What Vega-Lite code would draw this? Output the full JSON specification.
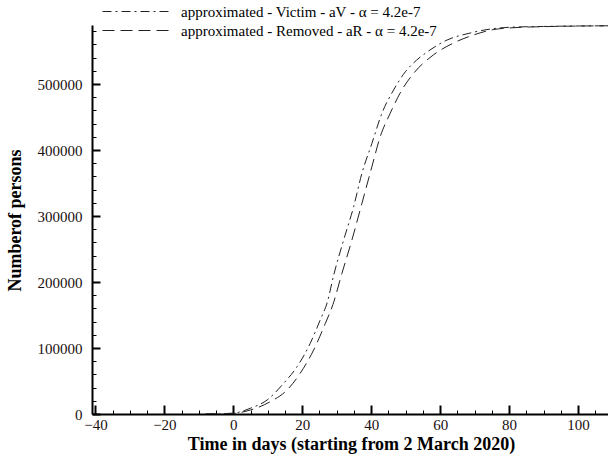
{
  "$schema": "https://vega.github.io/schema/vega-lite/v6.json",
  "autosize": {"type": "none"},
  "padding": {"left": 92, "top": 25, "right": 0, "bottom": 43},
  "width": 516,
  "height": 389,
  "background": "white",
  "config": {
    "view": {"stroke": null},
    "font": "Liberation Serif"
  },
  "datasets": {
    "curves": [
      {"day": -8, "persons": 0, "series": "approximated - Victim - aV - α = 4.2e-7"},
      {"day": -4, "persons": 400, "series": "approximated - Victim - aV - α = 4.2e-7"},
      {"day": 0, "persons": 1300, "series": "approximated - Victim - aV - α = 4.2e-7"},
      {"day": 4.9, "persons": 8600, "series": "approximated - Victim - aV - α = 4.2e-7"},
      {"day": 9.8, "persons": 21200, "series": "approximated - Victim - aV - α = 4.2e-7"},
      {"day": 14.6, "persons": 46500, "series": "approximated - Victim - aV - α = 4.2e-7"},
      {"day": 18.5, "persons": 71700, "series": "approximated - Victim - aV - α = 4.2e-7"},
      {"day": 22.3, "persons": 107000, "series": "approximated - Victim - aV - α = 4.2e-7"},
      {"day": 25.2, "persons": 142400, "series": "approximated - Victim - aV - α = 4.2e-7"},
      {"day": 27.3, "persons": 170000, "series": "approximated - Victim - aV - α = 4.2e-7"},
      {"day": 29.1, "persons": 210000, "series": "approximated - Victim - aV - α = 4.2e-7"},
      {"day": 32.0, "persons": 263600, "series": "approximated - Victim - aV - α = 4.2e-7"},
      {"day": 34.9, "persons": 314000, "series": "approximated - Victim - aV - α = 4.2e-7"},
      {"day": 37.3, "persons": 364700, "series": "approximated - Victim - aV - α = 4.2e-7"},
      {"day": 40.2, "persons": 410000, "series": "approximated - Victim - aV - α = 4.2e-7"},
      {"day": 43.1, "persons": 455600, "series": "approximated - Victim - aV - α = 4.2e-7"},
      {"day": 46.5, "persons": 491000, "series": "approximated - Victim - aV - α = 4.2e-7"},
      {"day": 49.9, "persons": 518600, "series": "approximated - Victim - aV - α = 4.2e-7"},
      {"day": 53.2, "persons": 536400, "series": "approximated - Victim - aV - α = 4.2e-7"},
      {"day": 56.2, "persons": 548500, "series": "approximated - Victim - aV - α = 4.2e-7"},
      {"day": 62.0, "persons": 566700, "series": "approximated - Victim - aV - α = 4.2e-7"},
      {"day": 68.7, "persons": 577300, "series": "approximated - Victim - aV - α = 4.2e-7"},
      {"day": 75.4, "persons": 584000, "series": "approximated - Victim - aV - α = 4.2e-7"},
      {"day": 80, "persons": 586000, "series": "approximated - Victim - aV - α = 4.2e-7"},
      {"day": 90, "persons": 587300, "series": "approximated - Victim - aV - α = 4.2e-7"},
      {"day": 100, "persons": 588000, "series": "approximated - Victim - aV - α = 4.2e-7"},
      {"day": 108.7, "persons": 588300, "series": "approximated - Victim - aV - α = 4.2e-7"},
      {"day": -8, "persons": 0, "series": "approximated - Removed - aR - α = 4.2e-7"},
      {"day": -4, "persons": 250, "series": "approximated - Removed - aR - α = 4.2e-7"},
      {"day": 0, "persons": 900, "series": "approximated - Removed - aR - α = 4.2e-7"},
      {"day": 4.9, "persons": 6000, "series": "approximated - Removed - aR - α = 4.2e-7"},
      {"day": 10.7, "persons": 18600, "series": "approximated - Removed - aR - α = 4.2e-7"},
      {"day": 15.6, "persons": 36400, "series": "approximated - Removed - aR - α = 4.2e-7"},
      {"day": 19.4, "persons": 61700, "series": "approximated - Removed - aR - α = 4.2e-7"},
      {"day": 23.3, "persons": 97000, "series": "approximated - Removed - aR - α = 4.2e-7"},
      {"day": 26.7, "persons": 137400, "series": "approximated - Removed - aR - α = 4.2e-7"},
      {"day": 28.9, "persons": 166000, "series": "approximated - Removed - aR - α = 4.2e-7"},
      {"day": 31.5, "persons": 213000, "series": "approximated - Removed - aR - α = 4.2e-7"},
      {"day": 34.4, "persons": 263600, "series": "approximated - Removed - aR - α = 4.2e-7"},
      {"day": 37.3, "persons": 319000, "series": "approximated - Removed - aR - α = 4.2e-7"},
      {"day": 40.2, "persons": 374700, "series": "approximated - Removed - aR - α = 4.2e-7"},
      {"day": 42.6, "persons": 420000, "series": "approximated - Removed - aR - α = 4.2e-7"},
      {"day": 45.5, "persons": 455600, "series": "approximated - Removed - aR - α = 4.2e-7"},
      {"day": 48.9, "persons": 491000, "series": "approximated - Removed - aR - α = 4.2e-7"},
      {"day": 52.3, "persons": 516200, "series": "approximated - Removed - aR - α = 4.2e-7"},
      {"day": 58.0, "persons": 544000, "series": "approximated - Removed - aR - α = 4.2e-7"},
      {"day": 63.8, "persons": 562000, "series": "approximated - Removed - aR - α = 4.2e-7"},
      {"day": 69.6, "persons": 574200, "series": "approximated - Removed - aR - α = 4.2e-7"},
      {"day": 75.4, "persons": 582500, "series": "approximated - Removed - aR - α = 4.2e-7"},
      {"day": 80, "persons": 585000, "series": "approximated - Removed - aR - α = 4.2e-7"},
      {"day": 90, "persons": 587000, "series": "approximated - Removed - aR - α = 4.2e-7"},
      {"day": 100, "persons": 587900, "series": "approximated - Removed - aR - α = 4.2e-7"},
      {"day": 108.7, "persons": 588300, "series": "approximated - Removed - aR - α = 4.2e-7"}
    ]
  },
  "data": {"name": "curves"},
  "layer": [
    {
      "mark": {"type": "line", "color": "#222222", "strokeWidth": 1, "interpolate": "monotone", "clip": true},
      "encoding": {
        "x": {
          "field": "day", "type": "quantitative",
          "scale": {"domain": [-41, 108.7], "nice": false, "zero": false},
          "axis": {
            "orient": "bottom",
            "values": [-40, -20, 0, 20, 40, 60, 80, 100],
            "title": "Time in days (starting from 2 March 2020)",
            "titleFont": "Liberation Serif", "titleFontSize": 18, "titleFontWeight": "bold", "titleColor": "black",
            "titleX": 259, "titleY": 30, "titleBaseline": "middle", "titleAlign": "center",
            "labelFont": "Liberation Serif", "labelFontSize": 15, "labelColor": "#1a1010",
            "ticks": false, "tickSize": 0, "labelPadding": 3, "labelFlush": false,
            "domainColor": "black", "domainWidth": 2,
            "grid": false
          }
        },
        "y": {
          "field": "persons", "type": "quantitative",
          "scale": {"domain": [0, 589500], "nice": false},
          "axis": {
            "orient": "left",
            "values": [0, 100000, 200000, 300000, 400000, 500000],
            "format": "d",
            "title": "Numberof persons",
            "titleFont": "Liberation Serif", "titleFontSize": 18, "titleFontWeight": "bold", "titleColor": "black",
            "titleX": -77, "titleY": 195, "titleAngle": -90, "titleBaseline": "middle", "titleAlign": "center",
            "labelFont": "Liberation Serif", "labelFontSize": 15, "labelColor": "#1a1010",
            "ticks": false, "tickSize": 0, "labelPadding": 10, "labelFlush": false,
            "domainColor": "black", "domainWidth": 2,
            "grid": false
          }
        },
        "strokeDash": {
          "field": "series", "type": "nominal",
          "scale": {
            "domain": ["approximated - Victim - aV - α = 4.2e-7", "approximated - Removed - aR - α = 4.2e-7"],
            "range": [[9, 4, 2, 4], [12, 6]]
          },
          "legend": {
            "title": null,
            "orient": "none", "legendX": 37, "legendY": -21,
            "padding": 0, "rowPadding": 3,
            "symbolType": "M-8.5,0H8.5", "symbolSize": 64,
            "symbolStrokeColor": "#222222", "symbolStrokeWidth": 1,
            "labelFont": "Liberation Serif", "labelFontSize": 15, "labelColor": "black",
            "labelOffset": 37, "labelLimit": 400
          }
        }
      }
    },
    {
      "mark": {"type": "line", "strokeOpacity": 0},
      "encoding": {
        "x": {
          "field": "day", "type": "quantitative",
          "axis": {
            "orient": "bottom", "offset": -9,
            "values": [-40, -20, 0, 20, 40, 60, 80, 100],
            "labels": false, "domain": false, "title": null,
            "tickColor": "black", "tickWidth": 2, "tickSize": 9, "grid": false
          }
        },
        "y": {
          "field": "persons", "type": "quantitative",
          "axis": {
            "orient": "left", "offset": -8,
            "values": [0, 100000, 200000, 300000, 400000, 500000],
            "labels": false, "domain": false, "title": null,
            "tickColor": "black", "tickWidth": 2, "tickSize": 8, "grid": false
          }
        },
        "detail": {"field": "series"}
      }
    },
    {
      "mark": {"type": "line", "strokeOpacity": 0},
      "encoding": {
        "x": {
          "field": "day", "type": "quantitative",
          "axis": {
            "orient": "bottom", "offset": -4,
            "values": [-35, -30, -25, -15, -10, -5, 5, 10, 15, 25, 30, 35, 45, 50, 55, 65, 70, 75, 85, 90, 95, 105],
            "labels": false, "domain": false, "title": null,
            "tickColor": "black", "tickWidth": 1, "tickSize": 4, "grid": false
          }
        },
        "y": {
          "field": "persons", "type": "quantitative",
          "axis": {
            "orient": "left", "offset": -4,
            "values": [20000, 40000, 60000, 80000, 120000, 140000, 160000, 180000, 220000, 240000, 260000, 280000, 320000, 340000, 360000, 380000, 420000, 440000, 460000, 480000, 520000, 540000, 560000, 580000],
            "labels": false, "domain": false, "title": null,
            "tickColor": "black", "tickWidth": 1, "tickSize": 4, "grid": false
          }
        },
        "detail": {"field": "series"}
      }
    }
  ],
  "resolve": {"axis": {"x": "independent", "y": "independent"}}
}
